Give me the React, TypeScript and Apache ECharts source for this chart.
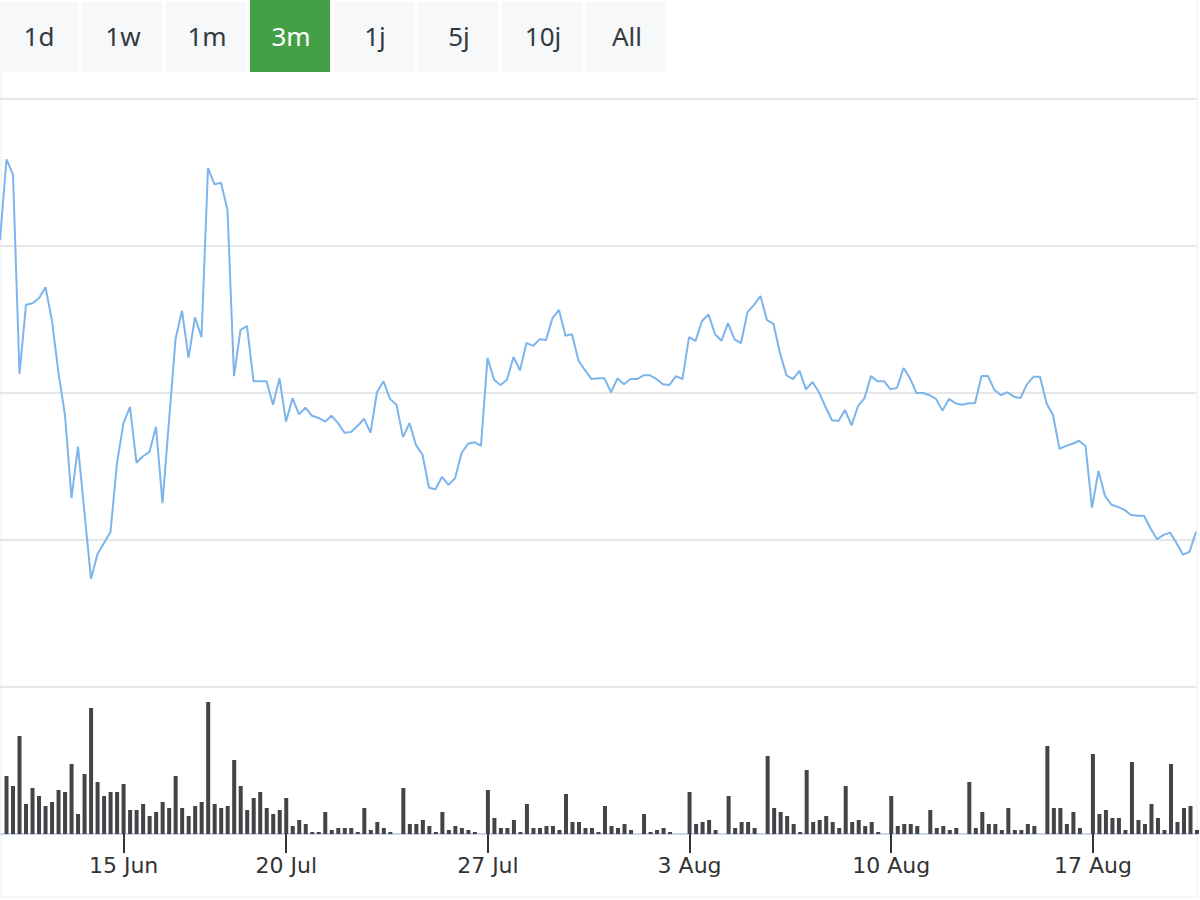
import React, { useEffect, useRef } from "react";
import * as echarts from "echarts";

const PRICE = [
  22.08, 23.18, 22.97, 20.26, 21.2, 21.22, 21.29, 21.44, 20.98, 20.27,
  19.7, 18.57, 19.27, 18.37, 17.47, 17.81, 17.96, 18.11, 19.05, 19.59,
  19.81, 19.05, 19.14, 19.2, 19.54, 18.5, 19.62, 20.73, 21.12, 20.48,
  21.03, 20.76, 23.06, 22.84, 22.86, 22.49, 20.23, 20.86, 20.91, 20.16,
  20.16, 20.16, 19.84, 20.2, 19.61, 19.93, 19.71, 19.8, 19.69, 19.66,
  19.61, 19.69, 19.59, 19.46, 19.47, 19.55, 19.65, 19.46, 20.01, 20.16,
  19.92, 19.84, 19.4, 19.59, 19.29, 19.16, 18.71, 18.69, 18.86, 18.75,
  18.84, 19.18, 19.31, 19.33, 19.28, 20.48, 20.18, 20.11, 20.18, 20.49,
  20.31, 20.68, 20.64, 20.73, 20.72, 21.02, 21.13, 20.78, 20.8, 20.44,
  20.31, 20.19, 20.2, 20.2, 20.01, 20.2, 20.12, 20.19, 20.19, 20.24,
  20.24, 20.19, 20.12, 20.11, 20.23, 20.19, 20.76, 20.71, 20.98, 21.07,
  20.8, 20.71, 20.95, 20.73, 20.68, 21.1, 21.2, 21.32, 20.99, 20.94,
  20.54, 20.24, 20.19, 20.3, 20.05, 20.15, 20.01, 19.81, 19.63, 19.62,
  19.77, 19.56, 19.82, 19.93, 20.23, 20.16, 20.16, 20.05, 20.07, 20.34,
  20.2, 20.0, 20.0, 19.97, 19.92, 19.76, 19.92, 19.86, 19.84, 19.86,
  19.86, 20.23, 20.23, 20.04, 19.97, 20.01, 19.95, 19.93, 20.12, 20.22,
  20.22, 19.86, 19.7, 19.24, 19.28, 19.31, 19.35, 19.28, 18.44, 18.94,
  18.6, 18.48, 18.45, 18.41, 18.34, 18.33, 18.33, 18.16, 18.01, 18.07,
  18.1, 17.96, 17.8, 17.84, 18.11,
];

const VOLUME = [
  0, 580, 480, 980, 300, 460, 380, 280, 320, 440,
  420, 700, 200, 600, 1260, 520, 380, 420, 420, 500,
  240, 240, 300, 180, 220, 320, 260, 580, 260, 180,
  280, 320, 1320, 300, 260, 280, 740, 480, 240, 360,
  420, 260, 200, 240, 360, 80, 140, 100, 20, 20,
  220, 40, 60, 60, 60, 20, 260, 40, 120, 60,
  20, 0, 460, 100, 100, 140, 80, 20, 220, 40,
  80, 60, 40, 20, 0, 440, 160, 60, 60, 140,
  20, 300, 60, 60, 80, 80, 40, 400, 120, 120,
  60, 60, 20, 280, 80, 60, 100, 40, 0, 200,
  20, 40, 60, 20, 0, 0, 420, 100, 120, 140,
  40, 0, 380, 60, 120, 120, 60, 0, 780, 260,
  220, 180, 100, 20, 640, 120, 140, 180, 120, 60,
  480, 120, 140, 80, 120, 20, 0, 380, 80, 100,
  100, 80, 0, 240, 60, 80, 40, 60, 0, 520,
  60, 220, 100, 100, 40, 260, 40, 40, 100, 80,
  0, 880, 260, 260, 100, 220, 60, 0, 800, 200,
  240, 160, 160, 40, 720, 140, 100, 300, 160, 40,
  700, 120, 260, 280, 40,
];

const TICK_INDEX = [19, 44, 75, 106, 137, 168];
const TICK_LABELS = ["15 Jun", "20 Jul", "27 Jul", "3 Aug", "10 Aug", "17 Aug"];
const BUTTONS = ["1d", "1w", "1m", "3m", "1j", "5j", "10j", "All"];
const ACTIVE_BUTTON = "3m";

const CATEGORIES = PRICE.map((_, i) => `p${i}`);

export default function App() {
  const ref = useRef<HTMLDivElement>(null);

  useEffect(() => {
    if (!ref.current) return;
    const chart = echarts.init(ref.current, undefined, { renderer: "svg" });
    const isTick = (i: number) => TICK_INDEX.indexOf(i) >= 0;

    const buttons = BUTTONS.map((b, i) => {
      const active = b === ACTIVE_BUTTON;
      return {
        type: "group",
        x: -2 + 84 * i,
        y: 0,
        children: [
          {
            type: "rect",
            shape: { x: 0, y: active ? 0 : 2, width: 80, height: active ? 72 : 70 },
            style: { fill: active ? "#43a047" : "#f7f8fa" },
          },
          {
            type: "text",
            x: 41,
            y: 36,
            style: {
              text: b,
              fill: active ? "#ffffff" : "#333a40",
              fontSize: 26,
              fontFamily: "Noto Sans",
              align: "center",
              verticalAlign: "middle",
            },
          },
        ],
      };
    });

    const frame = [
      { type: "rect", shape: { x: 0, y: 0, width: 2, height: 898 }, style: { fill: "#f5f6f8" } },
      { type: "rect", shape: { x: 1196, y: 0, width: 2, height: 898 }, style: { fill: "#f5f6f8" } },
      { type: "rect", shape: { x: 0, y: 896, width: 1198, height: 2 }, style: { fill: "#f5f6f8" } },
    ];

    chart.setOption({
      animation: false,
      backgroundColor: "#ffffff",
      grid: [
        { left: -2, right: 4, top: 99, height: 588 },
        { left: -1, right: 3, top: 687, height: 147 },
      ],
      xAxis: [
        {
          type: "category",
          gridIndex: 0,
          data: CATEGORIES,
          boundaryGap: false,
          show: false,
        },
        {
          type: "category",
          gridIndex: 1,
          data: CATEGORIES,
          boundaryGap: false,
          axisLine: { show: true, lineStyle: { color: "#ccd6eb", width: 2 } },
          axisTick: {
            show: true,
            interval: (i: number) => isTick(i),
            length: 19,
            lineStyle: { color: "#333333", width: 2 },
          },
          axisLabel: {
            interval: (i: number) => isTick(i),
            formatter: (_v: string, i: number) => {
              const k = TICK_INDEX.indexOf(i);
              return k >= 0 ? TICK_LABELS[k] : "";
            },
            color: "#333333",
            fontSize: 22,
            fontFamily: "DejaVu Sans",
            margin: 20,
          },
          splitLine: { show: false },
        },
      ],
      yAxis: [
        {
          type: "value",
          gridIndex: 0,
          min: 16,
          max: 24,
          interval: 2,
          axisLabel: { show: false },
          axisLine: { show: false },
          axisTick: { show: false },
          splitLine: { show: true, lineStyle: { color: "#e6e6e6", width: 2 } },
        },
        {
          type: "value",
          gridIndex: 1,
          min: 0,
          max: 1470,
          show: false,
          splitLine: { show: false },
        },
      ],
      series: [
        {
          type: "line",
          xAxisIndex: 0,
          yAxisIndex: 0,
          data: PRICE,
          symbol: "none",
          showSymbol: false,
          lineStyle: { color: "#7cb5ec", width: 2 },
          itemStyle: { color: "#7cb5ec" },
        },
        {
          type: "bar",
          xAxisIndex: 1,
          yAxisIndex: 1,
          data: VOLUME,
          barWidth: 4,
          itemStyle: { color: "#434348" },
        },
      ],
      graphic: [...frame, ...buttons],
    });

    return () => chart.dispose();
  }, []);

  return (
    <div
      ref={ref}
      style={{ position: "absolute", left: 0, top: 0, width: 1200, height: 900 }}
    />
  );
}
